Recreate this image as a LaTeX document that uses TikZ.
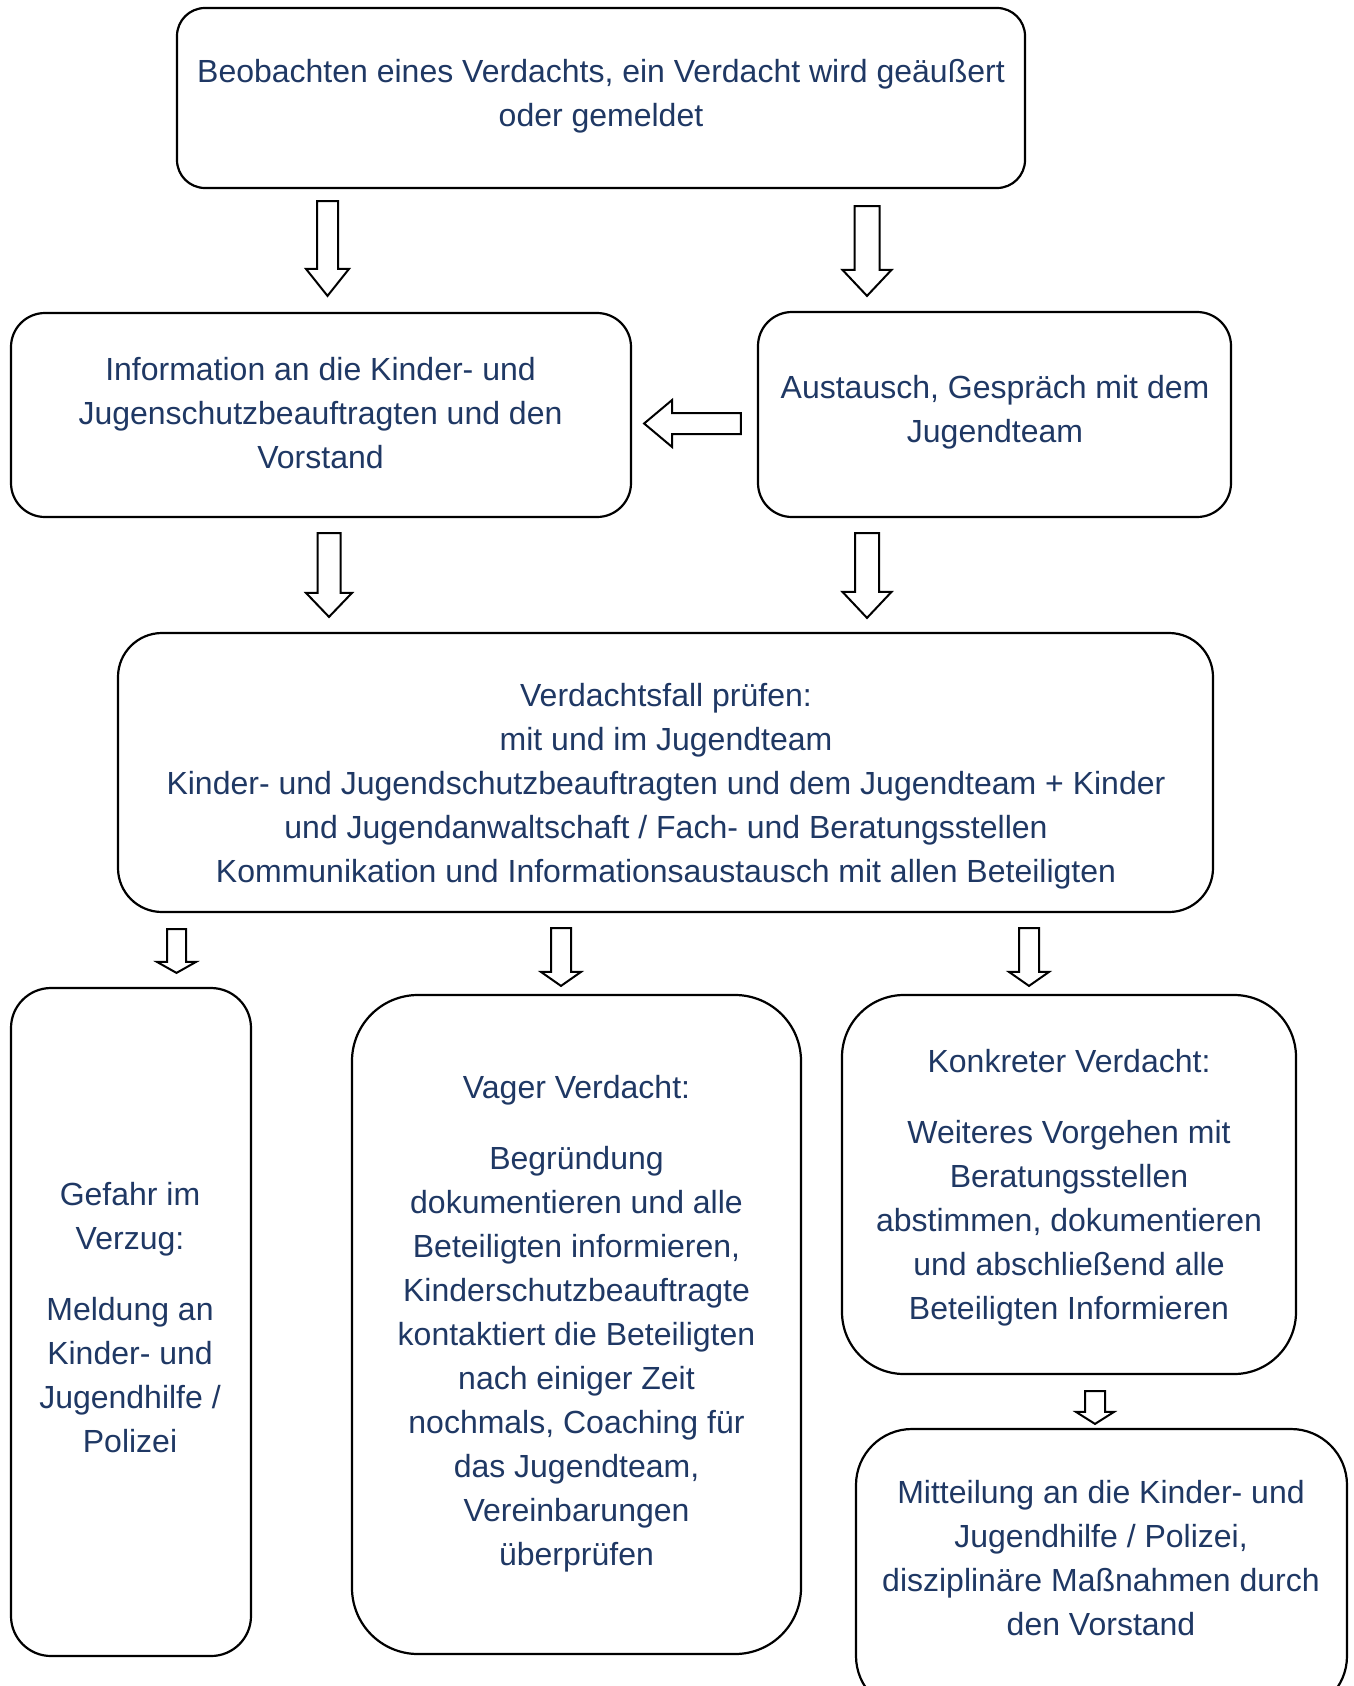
\documentclass[tikz,border=0pt]{standalone}
\usepackage{fontspec}
\setmainfont{Liberation Sans}
\usetikzlibrary{calc}
\definecolor{txtblue}{RGB}{31,56,100}
% vertical block arrow: from node #1 (south) to node #2 (north) at x=#3 (px)
% gaps #4 (top) #5 (bottom), shaft half width #6, head half width #7, head length #8 (all px)
\newcommand\vblock[8]{%
  \draw[blockarrow] let \p1=($(#3,0 |- #1.south)+(0,#4)$), \p2=($(#3,0 |- #2.north)+(0,-#5)$) in
  (\x1-#6*0.5pt,\y1) -- (\x1+#6*0.5pt,\y1) -- (\x1+#6*0.5pt,\y2+#8*0.5pt) -- (\x1+#7*0.5pt,\y2+#8*0.5pt)
  -- (\x1,\y2) -- (\x1-#7*0.5pt,\y2+#8*0.5pt) -- (\x1-#6*0.5pt,\y2+#8*0.5pt) -- cycle;}
% horizontal (leftward) block arrow: from node #1 (west) to node #2 (east) at y=#3 (px)
\newcommand\hblock[8]{%
  \draw[blockarrow] let \p1=($(#1.west |- 0,#3)+(-#4,0)$), \p2=($(#2.east |- 0,#3)+(#5,0)$) in
  (\x1,\y1-#6*0.5pt) -- (\x1,\y1+#6*0.5pt) -- (\x2+#8*0.5pt,\y1+#6*0.5pt) -- (\x2+#8*0.5pt,\y1+#7*0.5pt)
  -- (\x2,\y1) -- (\x2+#8*0.5pt,\y1-#7*0.5pt) -- (\x2+#8*0.5pt,\y1-#6*0.5pt) -- cycle;}
\begin{document}
\begin{tikzpicture}[x=0.5pt,y=-0.5pt,
  box/.style={draw=black, line width=1.1pt, fill=white, rectangle, inner sep=0pt},
  txt/.style={text=txtblue, align=center, font=\fontsize{16}{22}\selectfont, inner sep=0pt},
  blockarrow/.style={draw=black, line width=1pt, fill=white, line join=miter}]
\useasboundingbox (0,0) rectangle (1354,1686);
\clip (0,0) rectangle (1354,1686);
\fill[white] (0,0) rectangle (1354,1686);

% boxes
\node[box, minimum width=424pt, minimum height=90pt, rounded corners=14pt] (b1) at (601,98) {};
\node[box, minimum width=310pt, minimum height=102pt, rounded corners=17pt] (b2) at (321,415) {};
\node[box, minimum width=236.5pt, minimum height=102.5pt, rounded corners=17pt] (b3) at (994.5,414.5) {};
\node[box, minimum width=547.5pt, minimum height=139.5pt, rounded corners=22pt] (b4) at (665.5,772.5) {};
\node[box, minimum width=120pt, minimum height=334pt, rounded corners=20pt] (b5) at (131,1322) {};
\node[box, minimum width=224.5pt, minimum height=329.5pt, rounded corners=33pt] (b6) at (576.5,1324.5) {};
\node[box, minimum width=227pt, minimum height=189.5pt, rounded corners=31pt] (b7) at (1069,1184.5) {};
\node[box, minimum width=245.5pt, minimum height=141.5pt, rounded corners=28pt] (b8) at (1101.5,1570.5) {};

% texts
\node[txt] (t1) at (601,96.5) {Beobachten eines Verdachts, ein Verdacht wird geäußert\\oder gemeldet};
\node[txt] (t2) at (320.5,413) {Information an die Kinder- und\\Jugenschutzbeauftragten und den\\Vorstand};
\node[txt] (t3) at (995,412.5) {Austausch, Gespräch mit dem\\Jugendteam};
\node[txt] (t4) at (666,786.5) {Verdachtsfall prüfen:\\mit und im Jugendteam\\Kinder- und Jugendschutzbeauftragten und dem Jugendteam + Kinder\\und Jugendanwaltschaft / Fach- und Beratungsstellen\\Kommunikation und Informationsaustausch mit allen Beteiligten};
\node[txt] (t5) at (130,1317.5) {Gefahr im\\Verzug:\\[13.5pt]Meldung an\\Kinder- und\\Jugendhilfe /\\Polizei};
\node[txt] (t6) at (576.5,1324) {Vager Verdacht:\\[13.5pt]Begründung\\dokumentieren und alle\\Beteiligten informieren,\\Kinderschutzbeauftragte\\kontaktiert die Beteiligten\\nach einiger Zeit\\nochmals, Coaching für\\das Jugendteam,\\Vereinbarungen\\überprüfen};
\node[txt] (t7) at (1069,1187.5) {Konkreter Verdacht:\\[13.5pt]Weiteres Vorgehen mit\\Beratungsstellen\\abstimmen, dokumentieren\\und abschließend alle\\Beteiligten Informieren};
\node[txt] (t8) at (1101,1558) {Mitteilung an die Kinder- und\\Jugendhilfe / Polizei,\\disziplinäre Maßnahmen durch\\den Vorstand};

% block arrows
\vblock{b1}{b2}{327.5}{12}{16}{10.5}{21.5}{27}
\vblock{b1}{b3}{867}{17}{15}{12.5}{24.5}{26}
\hblock{b3}{b2}{423.5}{16}{12}{10.5}{23.5}{28}
\vblock{b2}{b4}{329}{15}{15}{11.5}{23}{24}
\vblock{b3}{b4}{867}{15}{14}{12}{24.5}{26}
\vblock{b4}{b5}{176.5}{16}{14}{9.5}{19.5}{11}
\vblock{b4}{b6}{561}{15}{8}{10}{20}{14}
\vblock{b4}{b7}{1029}{15}{8}{10}{20}{14}
\vblock{b7}{b8}{1095}{16}{4}{10}{19}{12}
\end{tikzpicture}
\end{document}
